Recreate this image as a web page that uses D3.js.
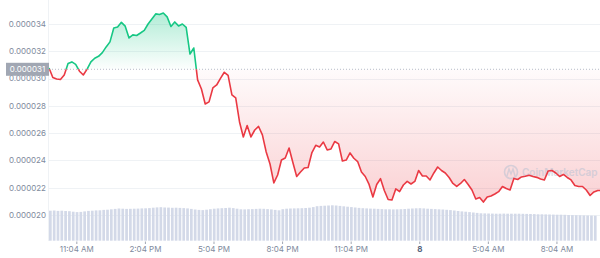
<!DOCTYPE html>
<html>
<head>
<meta charset="utf-8">
<script src="https://cdn.jsdelivr.net/npm/d3@7"></script>
<style>
  body { margin: 0; background: #fff; }
  svg { display: block; font-family: Inter, "Noto Sans", sans-serif; }
</style>
</head>
<body>
<svg></svg>
<script>
// Price every 10 minutes, in millionths (31 -> 0.000031).
var price = [
  30.78, 30.08, 29.97, 29.93, 30.26, 31.10, 31.22, 31.04, 30.54, 30.26,
  30.69, 31.22, 31.49, 31.63, 31.90, 32.32, 32.69, 33.71, 33.78, 34.12,
  33.84, 32.98, 33.20, 33.16, 33.34, 33.53, 34.00, 34.37, 34.74, 34.70,
  34.81, 34.52, 33.82, 34.15, 33.86, 34.00, 33.75, 31.80, 32.24, 29.90,
  29.24, 28.14, 28.29, 29.31, 29.53, 30.01, 30.46, 30.23, 28.80, 28.58,
  26.82, 25.72, 26.56, 25.72, 26.23, 26.49, 25.87, 24.62, 23.74, 22.35,
  22.93, 24.03, 24.18, 24.91, 23.85, 22.82, 23.15, 23.45, 23.48, 24.58,
  25.11, 24.99, 25.35, 24.77, 24.84, 25.39, 25.21, 23.96, 24.03, 24.55,
  24.16, 23.92, 23.15, 22.82, 22.24, 21.32, 22.24, 22.66, 21.80, 21.14,
  21.10, 21.91, 21.72, 22.20, 22.46, 22.27, 22.46, 23.26, 22.86, 22.86,
  22.57, 23.08, 23.52, 23.26, 23.08, 22.75, 22.31, 22.09, 22.31, 22.60,
  22.24, 21.83, 21.17, 21.28, 20.95, 21.32, 21.39, 21.54, 21.71, 22.09,
  21.94, 21.83, 22.68, 22.60, 22.79, 22.84, 22.91, 22.82, 22.76, 22.64,
  22.57, 23.23, 23.26, 23.08, 22.82, 22.97, 22.75, 22.57, 22.16, 22.09,
  22.09, 21.83, 21.43, 21.69, 21.80, 21.80
];

// Volume per 10 minute bar (thousands).
var volume = [
  30.0, 30.2, 29.8, 30.0, 29.7, 29.5, 29.0, 28.6, 28.8, 29.3,
  29.8, 30.0, 30.3, 30.4, 30.8, 31.0, 31.4, 31.8, 32.2, 32.0,
  31.8, 31.9, 32.0, 32.1, 32.3, 32.4, 32.6, 33.0, 33.3, 33.5,
  33.2, 33.1, 32.9, 33.0, 32.8, 32.6, 32.3, 31.8, 31.2, 30.8,
  30.6, 31.0, 31.5, 32.0, 32.3, 32.5, 32.7, 33.0, 32.6, 32.0,
  31.4, 31.3, 31.5, 31.6, 31.8, 32.0, 31.9, 31.6, 31.3, 30.8,
  30.4, 31.5, 32.0, 32.2, 32.3, 32.4, 32.5, 32.7, 33.0, 33.6,
  34.5, 34.8, 35.0, 35.2, 35.4, 35.2, 34.8, 34.4, 34.0, 33.6,
  33.2, 32.8, 32.5, 32.3, 32.1, 32.0, 31.8, 31.6, 31.4, 31.4,
  31.3, 31.4, 31.5, 31.7, 32.0, 32.2, 32.4, 32.5, 32.3, 32.0,
  31.8, 31.6, 31.4, 31.2, 30.9, 30.6, 30.2, 29.7, 29.3, 29.0,
  28.6, 28.2, 27.8, 27.4, 27.3, 27.2, 27.1, 27.0, 27.0, 27.1,
  27.0, 27.0, 27.0, 27.0, 26.9, 26.8, 26.7, 26.6, 26.4, 26.4,
  26.3, 26.2, 26.1, 26.0, 26.0, 25.9, 25.7, 25.6, 25.5, 25.4,
  25.3, 25.2, 25.1, 25.0
];

// Opening price that splits green from red.
var refPrice = 30.68;
var refLabel = "0.000031";

var yTicks = [20, 22, 24, 26, 28, 30, 32, 34];
var xTickTimes = [
  new Date(2024, 0, 7, 11, 4), new Date(2024, 0, 7, 14, 4),
  new Date(2024, 0, 7, 17, 4), new Date(2024, 0, 7, 20, 4),
  new Date(2024, 0, 7, 23, 4), new Date(2024, 0, 8, 2, 4),
  new Date(2024, 0, 8, 5, 4), new Date(2024, 0, 8, 8, 4)
];
var xTickLabels = ["11:04 AM", "2:04 PM", "5:04 PM", "8:04 PM", "11:04 PM", "8", "5:04 AM", "8:04 AM"];

var start = new Date(2024, 0, 7, 9, 51);
var step = 10 * 60 * 1000;

var svg = d3.select("svg")
  .attr("width", 600)
  .attr("height", 258);

var x = d3.scaleTime()
  .domain([start, new Date(+start + 24 * 3600 * 1000 + 6 * 60 * 1000)])
  .range([49, 600]);
var y = d3.scaleLinear().domain([20, 34]).range([215, 24]);
var yVol = d3.scaleLinear().domain([0, 36]).range([240.7, 204.7]);

var data = price.map(function (p, i) {
  return { t: new Date(+start + i * step), p: p };
});
var yBase = y(refPrice);

var defs = svg.append("defs");

// Clip paths for above / below the opening price.
defs.append("clipPath").attr("id", "above")
  .append("rect").attr("x", 49).attr("y", 0).attr("width", 551).attr("height", yBase);
defs.append("clipPath").attr("id", "below")
  .append("rect").attr("x", 49).attr("y", yBase).attr("width", 551).attr("height", 258 - yBase);

var gGreen = defs.append("linearGradient").attr("id", "gGreen")
  .attr("gradientUnits", "userSpaceOnUse")
  .attr("x1", 0).attr("x2", 0).attr("y1", y(34.8)).attr("y2", yBase);
gGreen.append("stop").attr("offset", "0%").attr("stop-color", "#16c784").attr("stop-opacity", 0.33);
gGreen.append("stop").attr("offset", "100%").attr("stop-color", "#16c784").attr("stop-opacity", 0.01);

var gRed = defs.append("linearGradient").attr("id", "gRed")
  .attr("gradientUnits", "userSpaceOnUse")
  .attr("x1", 0).attr("x2", 0).attr("y1", yBase).attr("y2", y(20.5));
gRed.append("stop").attr("offset", "0%").attr("stop-color", "#ea3943").attr("stop-opacity", 0.02);
gRed.append("stop").attr("offset", "100%").attr("stop-color", "#ea3943").attr("stop-opacity", 0.24);

// Grid lines.
svg.append("g").selectAll("line")
  .data(yTicks)
  .enter().append("line")
  .attr("x1", 49).attr("x2", 600)
  .attr("y1", function (d) { return Math.round(y(d)) + 0.5; })
  .attr("y2", function (d) { return Math.round(y(d)) + 0.5; })
  .attr("stroke", "#eff2f5");
svg.append("line")
  .attr("x1", 48.5).attr("x2", 48.5).attr("y1", 0).attr("y2", 241)
  .attr("stroke", "#eff2f5");

// Y labels.
svg.append("g").selectAll("text")
  .data(yTicks)
  .enter().append("text")
  .attr("x", 46)
  .attr("y", function (d) { return y(d); })
  .attr("dy", "0.35em")
  .attr("text-anchor", "end")
  .attr("font-size", 8)
  .attr("fill", "#808a9d")
  .text(function (d) { return (d * 1e-6).toFixed(6); });

// Volume bars.
var bw = x(new Date(+start + step)) - x(start);
svg.append("g").selectAll("rect")
  .data(volume)
  .enter().append("rect")
  .attr("x", function (d, i) { return x(new Date(+start + i * step)); })
  .attr("width", bw - 1.1)
  .attr("y", function (d) { return yVol(d); })
  .attr("height", function (d) { return yVol(0) - yVol(d); })
  .attr("fill", "#d3d9e8");

// Areas.
var area = d3.area()
  .x(function (d) { return x(d.t); })
  .y0(yBase)
  .y1(function (d) { return y(d.p); });

svg.append("path").datum(data)
  .attr("d", area)
  .attr("fill", "url(#gGreen)")
  .attr("clip-path", "url(#above)");
svg.append("path").datum(data)
  .attr("d", area)
  .attr("fill", "url(#gRed)")
  .attr("clip-path", "url(#below)");

// Watermark.
var wm = svg.append("g").attr("opacity", 0.55);
wm.append("circle").attr("cx", 511).attr("cy", 172).attr("r", 6.5)
  .attr("fill", "none").attr("stroke", "#b8c2d3").attr("stroke-width", 1.6);
wm.append("path").attr("d", "M507,176 L509,169 L511,174 L513,169 L515,176")
  .attr("fill", "none").attr("stroke", "#b8c2d3").attr("stroke-width", 1.4);
wm.append("text").attr("x", 522).attr("y", 175.5)
  .attr("font-size", 10).attr("font-weight", 600).attr("fill", "#b8c2d3")
  .text("CoinMarketCap");

// Dotted opening price line.
svg.append("line")
  .attr("x1", 49).attr("x2", 600).attr("y1", yBase).attr("y2", yBase)
  .attr("stroke", "#b5bcc8").attr("stroke-dasharray", "1,2");

// Price line, green above / red below.
var line = d3.line()
  .x(function (d) { return x(d.t); })
  .y(function (d) { return y(d.p); });

svg.append("path").datum(data)
  .attr("d", line).attr("fill", "none")
  .attr("stroke", "#16c784").attr("stroke-width", 1.6)
  .attr("stroke-linejoin", "round")
  .attr("clip-path", "url(#above)");
svg.append("path").datum(data)
  .attr("d", line).attr("fill", "none")
  .attr("stroke", "#ea3943").attr("stroke-width", 1.6)
  .attr("stroke-linejoin", "round")
  .attr("clip-path", "url(#below)");

// Opening price tag.
svg.append("rect")
  .attr("x", 6).attr("y", yBase - 6.5).attr("width", 43).attr("height", 13)
  .attr("fill", "#a1a7b3");
svg.append("text")
  .attr("x", 27.5).attr("y", yBase).attr("dy", "0.35em")
  .attr("text-anchor", "middle").attr("font-size", 8).attr("fill", "#fff")
  .text(refLabel);

// X axis ticks and labels.
var xt = svg.append("g").selectAll("g")
  .data(xTickTimes)
  .enter().append("g")
  .attr("transform", function (d) { return "translate(" + x(d) + ",0)"; });
xt.append("line").attr("y1", 241.5).attr("y2", 244).attr("stroke", "#a1a7b3");
xt.append("text")
  .attr("y", 252)
  .attr("text-anchor", "middle")
  .attr("font-size", 8)
  .attr("fill", function (d, i) { return xTickLabels[i] === "8" ? "#58667e" : "#808a9d"; })
  .attr("font-weight", function (d, i) { return xTickLabels[i] === "8" ? 700 : 400; })
  .text(function (d, i) { return xTickLabels[i]; });
</script>
</body>
</html>
